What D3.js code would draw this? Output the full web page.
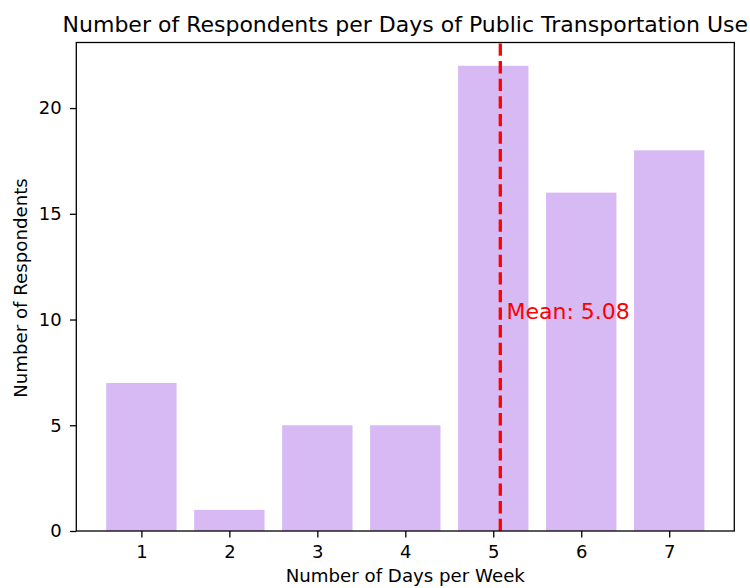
<!DOCTYPE html>
<html>
<head>
<meta charset="utf-8">
<script src="https://cdn.jsdelivr.net/npm/d3@7"></script>
<style>
  body { margin: 0; background: #fff; }
  text { font-family: "DejaVu Sans", sans-serif; fill: #000; }
</style>
</head>
<body>
<script>
const width = 750;
const height = 588;
const margin = {top: 42.5, right: 15.7, bottom: 57, left: 76.3};

// data
const days = [1, 2, 3, 4, 5, 6, 7];
const respondents = [7, 1, 5, 5, 22, 16, 18];
const yTicks = [0, 5, 10, 15, 20];
const meanDays = 5.08;

const svg = d3.select('body')
  .append('svg')
  .attr('width', width)
  .attr('height', height);

const x = d3.scaleLinear()
  .domain([0.26, 7.74])
  .range([margin.left, width - margin.right]);

const y = d3.scaleLinear()
  .domain([0, 23.1])
  .range([height - margin.bottom, margin.top]);

const barW = x(0.8) - x(0);

// bars
svg.append('g')
  .selectAll('rect')
  .data(days)
  .enter().append('rect')
  .attr('x', d => x(d - 0.4))
  .attr('y', (d, i) => y(respondents[i]))
  .attr('width', barW)
  .attr('height', (d, i) => y(0) - y(respondents[i]))
  .attr('fill', '#d7b9f4');

// mean line
svg.append('line')
  .attr('x1', x(meanDays))
  .attr('x2', x(meanDays))
  .attr('y1', y(0))
  .attr('y2', y(23.1))
  .attr('stroke', 'red')
  .attr('stroke-width', 3.3)
  .attr('stroke-dasharray', '12.3,5.3');

svg.append('text')
  .attr('x', x(meanDays + 0.07))
  .attr('y', y(10.4))
  .attr('dy', '0.35em')
  .style('fill', 'red')
  .style('font-size', '22px')
  .text('Mean: ' + meanDays.toFixed(2));

// axes
const xAxis = d3.axisBottom(x)
  .tickValues(days)
  .tickSize(6.4)
  .tickPadding(8)
  .tickFormat(d3.format('d'));

const yAxis = d3.axisLeft(y)
  .tickValues(yTicks)
  .tickSize(6.4)
  .tickPadding(8.2);

const gx = svg.append('g')
  .attr('transform', 'translate(0,' + (height - margin.bottom) + ')')
  .call(xAxis);

const gy = svg.append('g')
  .attr('transform', 'translate(' + margin.left + ',0)')
  .call(yAxis);

[gx, gy].forEach(g => {
  g.select('.domain').remove();
  g.selectAll('line').attr('stroke', '#000').attr('stroke-width', 1.3);
  g.selectAll('text')
    .style('font-size', '18px')
    .style('font-family', '"DejaVu Sans", sans-serif')
    .attr('fill', '#000');
});

// frame
svg.append('rect')
  .attr('x', margin.left)
  .attr('y', margin.top)
  .attr('width', width - margin.left - margin.right)
  .attr('height', height - margin.top - margin.bottom)
  .attr('fill', 'none')
  .attr('stroke', '#000')
  .attr('stroke-width', 1.3);

// labels
svg.append('text')
  .attr('x', (margin.left + width - margin.right) / 2)
  .attr('y', 32)
  .attr('text-anchor', 'middle')
  .style('font-size', '22px')
  .text('Number of Respondents per Days of Public Transportation Use');

svg.append('text')
  .attr('x', (margin.left + width - margin.right) / 2)
  .attr('y', 582)
  .attr('text-anchor', 'middle')
  .style('font-size', '18.2px')
  .text('Number of Days per Week');

svg.append('text')
  .attr('transform', 'translate(26.5,' + 288 + ') rotate(-90)')
  .attr('text-anchor', 'middle')
  .style('font-size', '18.2px')
  .text('Number of Respondents');
</script>
</body>
</html>
